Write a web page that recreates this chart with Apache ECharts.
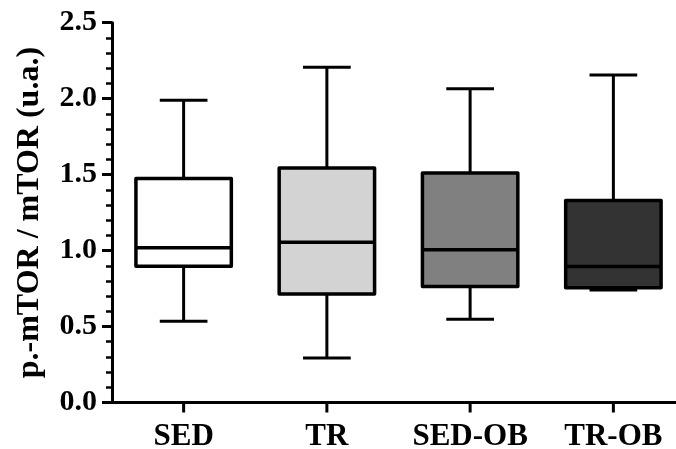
<!DOCTYPE html>
<html>
<head>
<meta charset="utf-8">
<script src="https://cdn.jsdelivr.net/npm/echarts@6/dist/echarts.min.js"></script>
<style>html,body{margin:0;padding:0;background:#fff}#c{width:676px;height:449px}</style>
</head>
<body>
<div id="c"></div>
<script>
const categories = ['SED', 'TR', 'SED-OB', 'TR-OB'];
const mins    = [0.534, 0.293, 0.548, 0.741];
const q1s     = [0.897, 0.715, 0.763, 0.755];
const medians = [1.018, 1.055, 1.005, 0.895];
const q3s     = [1.474, 1.544, 1.511, 1.330];
const maxs    = [1.990, 2.206, 2.065, 2.155];
const fills   = ['#ffffff', '#d3d3d3', '#808080', '#333333'];
const yTicks  = [0, 0.5, 1.0, 1.5, 2.0, 2.5];

const FONT = '"Liberation Serif", "Times New Roman", serif';
const catIdx = categories.map((c, i) => i);
const rows = categories.map((c, i) => [i, mins[i], q1s[i], medians[i], q3s[i], maxs[i]]);

const chart = echarts.init(document.getElementById('c'), null, {renderer: 'canvas'});
chart.setOption({
  animation: false,
  backgroundColor: '#fff',
  grid: {left: 112, width: 573, top: 22.7, bottom: 46.5, containLabel: false, outerBoundsMode: 'none'},
  xAxis: {
    type: 'value',
    min: -0.5, max: categories.length - 0.5,
    splitLine: {show: false},
    minorTick: {show: false},
    axisLine: {show: true, onZero: false, lineStyle: {color: '#000', width: 3}},
    axisTick: {show: false},
    axisLabel: {customValues: catIdx, formatter: v => categories[Math.round(v)] || '',
      color: '#000', fontFamily: FONT, fontWeight: 'bold', fontSize: 31, margin: 19, hideOverlap: false,
      showMinLabel: true, showMaxLabel: true}
  },
  yAxis: {
    type: 'value',
    min: yTicks[0], max: yTicks[yTicks.length - 1], interval: 0.5,
    name: 'p.-mTOR / mTOR (u.a.)',
    nameLocation: 'middle',
    nameGap: 66,
    nameTextStyle: {color: '#000', fontFamily: FONT, fontWeight: 'bold', fontSize: 32},
    axisLine: {show: true, onZero: false, lineStyle: {color: '#000', width: 3}},
    axisTick: {show: true, length: 10, lineStyle: {color: '#000', width: 3}},
    minorTick: {show: true, splitNumber: 5, length: 6, lineStyle: {color: '#000', width: 2.5}},
    splitLine: {show: false},
    axisLabel: {color: '#000', fontFamily: FONT, fontWeight: 'bold', fontSize: 30, margin: 15,
      formatter: v => v.toFixed(1)}
  },
  series: [{
    type: 'custom',
    clip: false,
    data: rows,
    encode: {x: 0, y: [1, 2, 3, 4, 5]},
    renderItem: function (params, api) {
      const idx = api.value(0);
      const x = api.coord([idx, 0])[0];
      const yAxis0 = api.coord([idx, yTicks[0]])[1];
      const band = api.size([1, 0])[0];
      const hb = band * 0.333;
      const hc = hb / 2;
      const y = k => api.coord([idx, api.value(k)])[1];
      const yMin = y(1), yQ1 = y(2), yMed = y(3), yQ3 = y(4), yMax = y(5);
      const ls = {stroke: '#000', lineWidth: 3};
      return {
        type: 'group',
        children: [
          {type: 'line', shape: {x1: x, y1: yAxis0, x2: x, y2: yAxis0 + 10}, style: ls},
          {type: 'line', shape: {x1: x, y1: yQ3, x2: x, y2: yMax}, style: ls},
          {type: 'line', shape: {x1: x, y1: yQ1, x2: x, y2: yMin}, style: ls},
          {type: 'line', shape: {x1: x - hc, y1: yMax, x2: x + hc, y2: yMax}, style: ls},
          {type: 'line', shape: {x1: x - hc, y1: yMin, x2: x + hc, y2: yMin}, style: ls},
          {type: 'rect', shape: {x: x - hb, y: yQ3, width: 2 * hb, height: yQ1 - yQ3},
            style: {fill: fills[idx], stroke: '#000', lineWidth: 3.5, lineJoin: 'round'}},
          {type: 'line', shape: {x1: x - hb, y1: yMed, x2: x + hb, y2: yMed}, style: {stroke: '#000', lineWidth: 3.5}}
        ]
      };
    }
  }]
});
</script>
</body>
</html>
